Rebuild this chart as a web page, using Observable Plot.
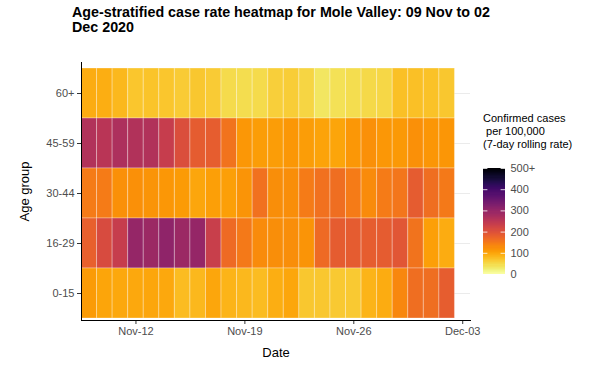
<!DOCTYPE html>
<html>
<head>
<meta charset="utf-8">
<script src="https://cdn.jsdelivr.net/npm/d3@7"></script>
<script src="https://cdn.jsdelivr.net/npm/@observablehq/plot@0.6"></script>
<style>
  html, body { margin: 0; padding: 0; background: white; }
  body { width: 589px; height: 365px; position: relative; overflow: hidden; font-family: "Liberation Sans", Arial, sans-serif; }
  #title { position: absolute; left: 72px; top: 5px; font-weight: bold; font-size: 14.3px; line-height: 15px; color: #000; }
  #chart { position: absolute; left: 0; top: 40px; }
  #legtitle { position: absolute; left: 483px; top: 112px; font-size: 11px; line-height: 13px; color: #000; white-space: pre; }
  #legend { position: absolute; left: 483px; top: 163px; }
  g[aria-label="y-axis label"] text, g[aria-label="x-axis label"] text { font-size: 13px; fill: #000; }
</style>
</head>
<body>
<div id="title">Age-stratified case rate heatmap for Mole Valley: 09 Nov to 02<br>Dec 2020</div>
<div id="chart"></div>
<div id="legtitle">Confirmed cases
 per 100,000
(7-day rolling rate)</div>
<div id="legend"></div>
<script>
// ---- data ----
const startDate = "2020-11-09";
const nDays = 24;
const ageGroups = ["60+", "45-59", "30-44", "16-29", "0-15"];
const rate60plus = [92, 90, 82, 68, 70, 68, 62, 66, 62, 45, 44, 46, 58, 60, 52, 35, 40, 44, 48, 50, 74, 74, 72, 66];
const rate45to59 = [262, 252, 268, 262, 262, 235, 205, 185, 182, 155, 115, 108, 108, 115, 108, 103, 100, 115, 122, 115, 112, 122, 116, 116];
const rate30to44 = [145, 145, 122, 122, 118, 114, 110, 98, 107, 107, 118, 158, 125, 125, 145, 158, 162, 145, 128, 145, 152, 185, 162, 148];
const rate16to29 = [178, 210, 235, 298, 290, 305, 290, 298, 232, 165, 147, 128, 124, 124, 118, 165, 185, 185, 183, 185, 192, 155, 107, 93];
const rate0to15 = [110, 100, 97, 97, 98, 97, 77, 82, 98, 84, 82, 77, 90, 98, 66, 66, 64, 64, 84, 93, 132, 162, 162, 182];
const xTickLabels = ["2020-11-12", "2020-11-19", "2020-11-26", "2020-12-03"];
const legendTicks = [0, 100, 200, 300, 400, 500];

const seriesByGroup = {"60+": rate60plus, "45-59": rate45to59, "30-44": rate30to44, "16-29": rate16to29, "0-15": rate0to15};
const DAY = 24 * 3600 * 1000;
const t0 = new Date(startDate + "T00:00:00Z").getTime();
const dates = d3.range(nDays).map(i => new Date(t0 + i * DAY));
const data = ageGroups.flatMap(g => seriesByGroup[g].map((v, i) => ({age: g, date: dates[i], rate: v})));
const tickDates = xTickLabels.map(s => new Date(s + "T00:00:00Z"));
const fmt = d3.utcFormat("%b-%d");

const colorOpts = {type: "linear", scheme: "inferno", reverse: true, domain: [0, 500], clamp: true};

const chart = Plot.plot({
  width: 589,
  height: 325,
  marginLeft: 81,
  marginRight: 119,
  marginTop: 22,
  marginBottom: 45,
  style: {fontFamily: "'Liberation Sans', Arial, sans-serif", fontSize: "11px", color: "#4d4d4d", background: "white"},
  x: {type: "utc", domain: [new Date(t0 - DAY / 2), new Date(t0 + (nDays + 0.5) * DAY)]},
  y: {type: "band", domain: ageGroups, padding: 0, insetTop: 5, insetBottom: 2},
  color: colorOpts,
  marks: [
    Plot.gridY({stroke: "#ebebeb", strokeOpacity: 1}),
    Plot.barX(data, {
      x1: d => new Date(d.date.getTime() - DAY / 2),
      x2: d => new Date(d.date.getTime() + DAY / 2),
      y: "age",
      fill: "rate",
      stroke: "white",
      strokeOpacity: 0.3,
      strokeWidth: 1
    }),
    Plot.axisY({tickSize: 4, tickPadding: 3, stroke: "#333", label: "Age group", labelAnchor: "center", labelOffset: 62, labelArrow: "none"}),
    Plot.axisX({ticks: tickDates, tickFormat: fmt, tickSize: 4, tickPadding: 3, stroke: "#333", label: "Date", labelAnchor: "center", labelOffset: 36, labelArrow: "none"}),
    Plot.frame({anchor: "left", stroke: "#000"}),
    Plot.frame({anchor: "bottom", stroke: "#000"})
  ]
});
document.getElementById("chart").appendChild(chart);

// ---- legend (vertical colorbar) ----
const step = 5;
const legendData = d3.range(0, 500, step).map(v => ({v}));
const legend = Plot.plot({
  width: 100,
  height: 116,
  marginLeft: 0,
  marginRight: 78,
  marginTop: 5,
  marginBottom: 5,
  style: {fontFamily: "'Liberation Sans', Arial, sans-serif", fontSize: "11px", color: "#4d4d4d", background: "transparent"},
  x: {domain: [0, 1], axis: null},
  y: {domain: [0, 500]},
  color: colorOpts,
  marks: [
    Plot.rect(legendData, {x1: 0, x2: 1, y1: "v", y2: d => Math.min(500, d.v + step * 1.8), fill: d => d.v + step / 2, shapeRendering: "crispEdges"}),
    Plot.ruleY(legendTicks, {x1: 0, x2: 0.2, stroke: "white", strokeOpacity: 0.8}),
    Plot.ruleY(legendTicks, {x1: 0.8, x2: 1, stroke: "white", strokeOpacity: 0.8}),
    Plot.axisY({anchor: "right", ticks: legendTicks, tickSize: 0, tickPadding: 5, tickFormat: d => d === 500 ? "500+" : String(d), label: null})
  ]
});
document.getElementById("legend").appendChild(legend);
</script>
</body>
</html>
